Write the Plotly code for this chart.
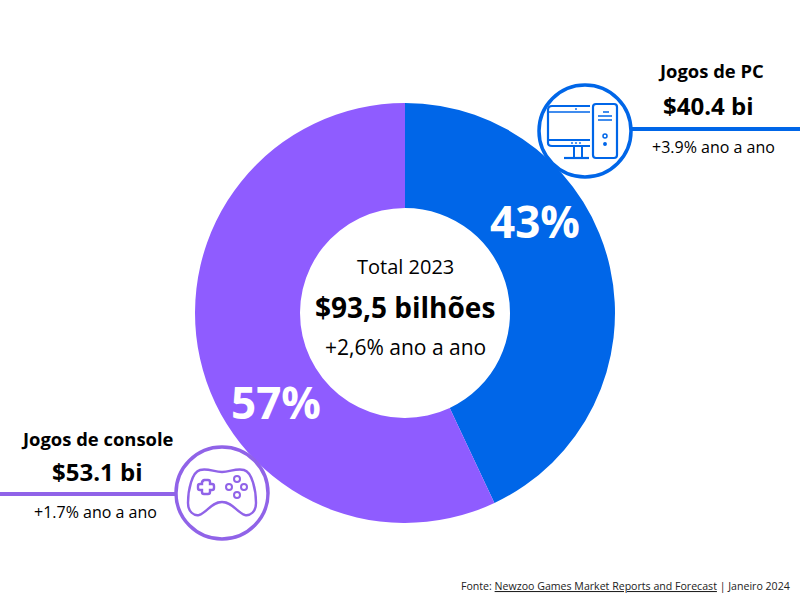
import plotly.graph_objects as go

categories = ["Jogos de PC", "Jogos de console"]
shares = [43, 57]
share_labels = ["43%", "57%"]
amount_labels = ["$40.4 bi", "$53.1 bi"]
growth_labels = ["+3.9% ano a ano", "+1.7% ano a ano"]
BLUE = "#0066E8"
PURPLE = "#8F5CFF"
ICON_PURPLE = "#9063E8"
FONT = "Open Sans"

fig = go.Figure(go.Pie(
    labels=categories, values=shares, hole=0.5, sort=False, direction="clockwise",
    rotation=0, textinfo="none", hoverinfo="label+percent",
    marker=dict(colors=[BLUE, PURPLE], line=dict(width=0)),
    domain=dict(x=[195/800, 615/800], y=[77/600, 497/600]), showlegend=False,
))


def text(x, y, s, size, color="#000000", bold=False, anchor="center"):
    fig.add_annotation(x=x, y=y, text=f"<b>{s}</b>" if bold else s, showarrow=False,
                       xref="x", yref="y", xanchor=anchor, yanchor="middle",
                       font=dict(family=FONT, size=size, color=color))


def line(x0, y0, x1, y1, color, w):
    fig.add_shape(type="line", x0=x0, y0=y0, x1=x1, y1=y1, xref="x", yref="y",
                  line=dict(color=color, width=w))


def circle(cx, cy, r, color, w, fill="rgba(0,0,0,0)"):
    fig.add_shape(type="circle", x0=cx-r, y0=cy-r, x1=cx+r, y1=cy+r, xref="x", yref="y",
                  line=dict(color=color, width=w), fillcolor=fill)


def path(d, color, w):
    fig.add_shape(type="path", path=d, xref="x", yref="y", line=dict(color=color, width=w))


# PC callout
line(632, 129, 800, 129, BLUE, 4)
circle(585, 131, 46, BLUE, 3.5, "white")
path("M590,106 L552,106 Q548,106 548,110 L548,143 Q548,146 552,146 L590,146", BLUE, 2.2)
line(548, 112, 590, 112, BLUE, 1.6)
line(548, 140, 590, 140, BLUE, 2)
line(574, 146, 574, 158, BLUE, 2)
line(582, 146, 582, 158, BLUE, 2)
line(564, 158, 589, 158, BLUE, 2.2)
path("M596,104 L614,104 Q617,104 617,107 L617,155 Q617,158 614,158 L596,158 "
     "Q593,158 593,155 L593,107 Q593,104 596,104 Z", BLUE, 2.2)
line(603, 112, 609, 112, BLUE, 1.5)
line(598, 116, 612, 116, BLUE, 1.5)
line(598, 120, 612, 120, BLUE, 1.5)
circle(605, 136, 2, BLUE, 1.5)
circle(605, 144, 1.2, BLUE, 1.5, BLUE)
for px in (572, 576, 580):
    circle(px, 143, 0.6, BLUE, 0.8, BLUE)
circle(576, 109, 0.6, BLUE, 0.8, BLUE)

# Console callout
line(0, 494, 176, 494, ICON_PURPLE, 4)
circle(222, 493, 46, ICON_PURPLE, 3.5, "white")
path("M200,470 C208,468 214,472 222,472 C230,472 236,468 244,470 "
     "C252,472 256,490 256,503 C256,512 250,516 245,515 "
     "C237,513 233,502 222,502 C211,502 207,513 199,515 "
     "C194,516 188,512 188,503 C188,490 192,472 200,470 Z", ICON_PURPLE, 2.4)
path("M203,481 Q203,480 204,480 L208,480 Q210,480 210,482 L210,484 L212,484 Q214,484 214,486 "
     "L214,488 Q214,490 212,490 L210,490 L210,492 Q210,494 208,494 L204,494 Q202,494 202,492 "
     "L202,490 L200,490 Q198,490 198,488 L198,486 Q198,484 200,484 L202,484 L202,482 Q202,481 203,481 Z",
     ICON_PURPLE, 2.4)
for bx, by in ((237, 479), (237, 495), (229, 487), (244, 487)):
    circle(bx, by, 3, ICON_PURPLE, 2)

# Labels
text(535, 221, share_labels[0], 44, "white", True)
text(276, 402, share_labels[1], 44, "white", True)
text(405, 266, "Total 2023", 20)
text(405, 307, "$93,5 bilhões", 28, bold=True)
text(405, 347, "+2,6% ano a ano", 21)
text(711, 70, categories[0], 18.4, bold=True)
text(708, 105, amount_labels[0], 24, bold=True)
text(713, 147, growth_labels[0], 16)
text(97, 438, categories[1], 18.4, bold=True)
text(97, 471, amount_labels[1], 24, bold=True)
text(95, 512, growth_labels[1], 16)
text(792, 586, "Fonte: <u>Newzoo Games Market Reports and Forecast</u> | Janeiro 2024",
     10.6, "#222222", anchor="right")

fig.update_layout(
    width=800, height=600, margin=dict(l=0, r=0, t=0, b=0),
    paper_bgcolor="white", plot_bgcolor="rgba(0,0,0,0)",
    xaxis=dict(range=[0, 800], visible=False, domain=[0, 1], fixedrange=True),
    yaxis=dict(range=[600, 0], visible=False, domain=[0, 1], fixedrange=True),
)
fig.write_html("out.html", config=dict(displayModeBar=False),
               post_script="document.body.style.margin='0';document.body.style.overflow='hidden';")
